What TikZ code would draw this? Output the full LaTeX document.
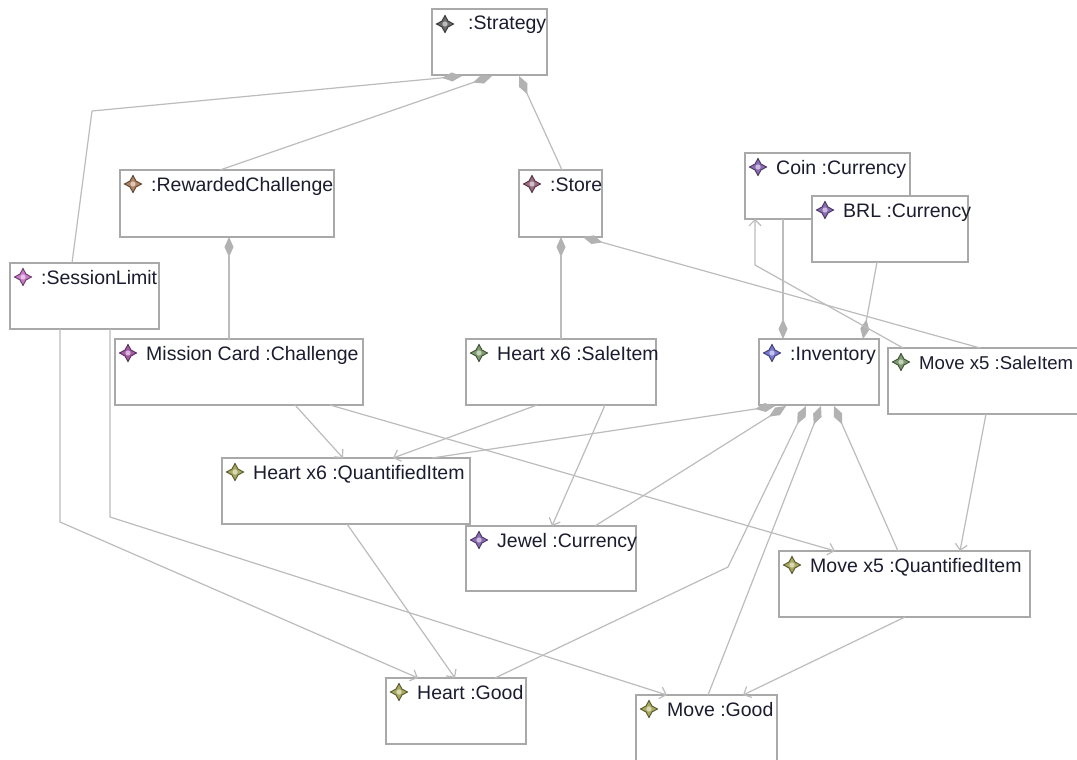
\documentclass[tikz,border=0pt]{standalone}
\usepackage{fontspec}
\setmainfont{Liberation Sans}
\usetikzlibrary{arrows.meta,calc}

\definecolor{boxline}{HTML}{A9A9A9}
\definecolor{wirec}{HTML}{BCBCBC}
\definecolor{diac}{HTML}{B2B2B2}
\definecolor{ink}{HTML}{1C1C30}
% icon colours per class
\definecolor{icgray}{HTML}{6A6A6A}
\definecolor{icbrown}{HTML}{B08262}
\definecolor{icmauve}{HTML}{9A6A84}
\definecolor{icpurple}{HTML}{8A6AB4}
\definecolor{icpink}{HTML}{C878C8}
\definecolor{icmagenta}{HTML}{A65AA8}
\definecolor{icgreen}{HTML}{7C9C6C}
\definecolor{icblue}{HTML}{7878D4}
\definecolor{icolive}{HTML}{A8A85E}

\tikzset{
  obj/.style={draw=boxline, line width=1.3pt, fill=white, anchor=north west,
    inner sep=0pt, outer sep=0pt},
  lbl/.style={anchor=base west, inner sep=0pt, text=ink},
  wire/.style={draw=wirec, line width=1.2pt, line join=round},
  comp/.style={wire, {Diamond[length=20pt,width=9pt,color=diac,fill=diac]}-},
  compend/.style={wire, -{Diamond[length=20pt,width=9pt,color=diac,fill=diac]}},
  ref/.style={wire, -{Straight Barb[length=6pt,width=12pt,color=wirec]}},
  pics/staricon/.style={code={
    \filldraw[fill=#1, draw=#1!50!black, line width=0.9pt, line join=miter]
      (0,-8.5) -- (3,-3) -- (8.5,0) -- (3,3) -- (0,8.5)
      -- (-3,3) -- (-8.5,0) -- (-3,-3) -- cycle;
    \fill[#1!45!white] (0,0) circle (2.6);
  }}
}

% object box: name, left, top, width, height, icon colour, label
\newcommand\objbox[7]{%
  \node[obj, minimum width=#4pt, minimum height=#5pt] (#1) at (#2,#3) {};
  \pic at ($(#1.north west)+(13,14)$) {staricon=#6};
  \node[lbl] (#1-t) at ($(#1.north west)+(31,21)$) {#7};
}

\begin{document}
\begin{tikzpicture}[x=1pt, y=-1pt, font=\fontsize{19.5}{23}\selectfont]
\useasboundingbox (0,0) rectangle (1077,760);
\fill[white] (0,0) rectangle (1077,760);

% objects
\node[obj, minimum width=115pt, minimum height=66pt] (strat) at (432,9) {};
\pic at ($(strat.north west)+(13,15)$) {staricon=icgray};
\node[lbl] (strat-t) at ($(strat.north west)+(36,21)$) {:Strategy};

\objbox{rew}{120}{170}{214}{67}{icbrown}{:RewardedChallenge}
\objbox{store}{519}{170}{83}{67}{icmauve}{:Store}
\objbox{coin}{745}{153}{165}{66}{icpurple}{Coin :Currency}
\objbox{brl}{812}{196}{156}{66}{icpurple}{BRL :Currency}
\objbox{sess}{10}{263}{149}{66}{icpink}{:SessionLimit}
\objbox{miss}{115}{339}{248}{66}{icmagenta}{Mission Card :Challenge}
\objbox{hsale}{466}{339}{190}{66}{icgreen}{Heart x6 :SaleItem}
\objbox{inv}{759}{339}{120}{66}{icblue}{:Inventory}
\objbox{msale}{888}{348}{192}{66}{icgreen}{\fontsize{18.6}{23}\selectfont Move x5 :SaleItem}
\objbox{hqi}{222}{458}{248}{66}{icolive}{Heart x6 :QuantifiedItem}
\objbox{jewel}{466}{526}{170}{65}{icpurple}{Jewel :Currency}
\objbox{mqi}{779}{551}{251}{66}{icolive}{Move x5 :QuantifiedItem}
\objbox{hgood}{386}{678}{140}{66}{icolive}{Heart :Good}
\objbox{mgood}{636}{695}{141}{72}{icolive}{Move :Good}

% compositions owned by the strategy
\draw[comp] ($(strat.north west)+(30,67)$) -- ($(sess.north west)+(82,-152)$)
  -- ($(sess.north west)+(62,0)$);
\draw[comp] ($(strat.north west)+(60,67)$) -- ($(rew.north west)+(100,0)$);
\draw[comp] ($(strat.north west)+(87,67)$) -- ($(store.north west)+(43,0)$);

\draw[comp] ($(rew.north west)+(109,67)$) -- ($(miss.north west)+(114,0)$);
\draw[comp] ($(store.north west)+(42,67)$) -- ($(hsale.north west)+(95,0)$);
\draw[comp] ($(store.north west)+(64,67)$) -- ($(msale.north west)+(92,0)$);

% currencies held by the inventory
\draw[compend] ($(coin.north west)+(38,66)$) -- ($(inv.north west)+(24,0)$);
\draw[compend] ($(brl.north west)+(65,66)$) -- ($(inv.north west)+(104,0)$);

% inventory contents
\draw[comp] ($(inv.north west)+(16,67)$) -- ($(hqi.north west)+(210,0)$);
\draw[comp] ($(inv.north west)+(27,67)$) -- ($(jewel.north west)+(129,0)$);
\draw[comp] ($(inv.north west)+(47,67)$) -- ($(hgood.north west)+(342,-111)$)
  -- ($(hgood.north west)+(109,0)$);
\draw[comp] ($(inv.north west)+(62,67)$) -- ($(mgood.north west)+(72,0)$);
\draw[comp] ($(inv.north west)+(75,67)$) -- ($(mqi.north west)+(119,0)$);

% references
\draw[ref] ($(miss.north west)+(180,66)$) -- ($(hqi.north west)+(121,0)$);
\draw[ref] ($(hsale.north west)+(71,66)$) -- ($(hqi.north west)+(171,0)$);
\draw[ref] ($(miss.north west)+(215,66)$) -- ($(mqi.north west)+(56,0)$);
\draw[ref] ($(hsale.north west)+(139,66)$) -- ($(jewel.north west)+(86,0)$);
\draw[ref] ($(msale.north west)+(98,66)$) -- ($(mqi.north west)+(181,0)$);
\draw[ref] ($(msale.north west)+(15,0)$) -- ($(coin.north west)+(10,112)$)
  -- ($(coin.north west)+(10,66)$);
\draw[ref] ($(hqi.north west)+(125,66)$) -- ($(hgood.north west)+(69,0)$);
\draw[ref] ($(sess.north west)+(50,66)$) -- ($(sess.north west)+(50,259)$)
  -- ($(hgood.north west)+(32,0)$);
\draw[ref] ($(sess.north west)+(100,66)$) -- ($(sess.north west)+(100,254)$)
  -- ($(mgood.north west)+(31,0)$);
\draw[ref] ($(mqi.north west)+(126,66)$) -- ($(mgood.north west)+(107,0)$);
\end{tikzpicture}
\end{document}
